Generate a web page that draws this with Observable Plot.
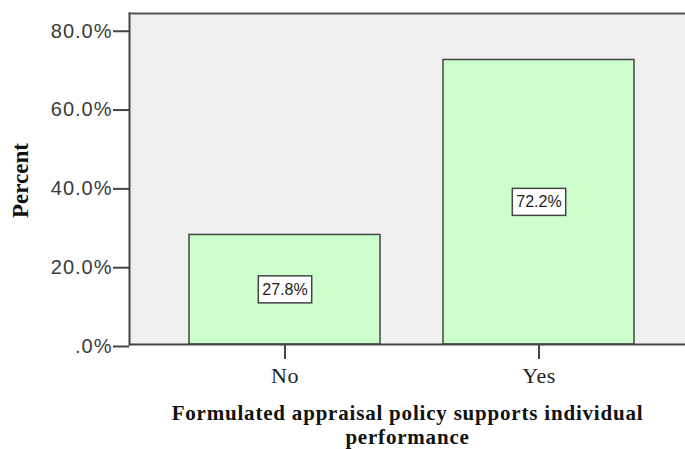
<!DOCTYPE html>
<html>
<head>
<meta charset="utf-8">
<script src="https://cdn.jsdelivr.net/npm/d3@7"></script>
<script src="https://cdn.jsdelivr.net/npm/@observablehq/plot@0.6"></script>
<style>
  html, body { margin: 0; padding: 0; background: #ffffff; }
  #chart svg { display: block; }
  #chart g[aria-label="y-axis tick label"] text { letter-spacing: 1px; }
  #chart g[aria-label="x-axis tick label"] text { letter-spacing: 0.5px; }
  #chart text.x-title { letter-spacing: 0.8px; }
</style>
</head>
<body>
<div id="chart"></div>
<script>
// Response categories and their share of respondents
const categories = ["No", "Yes"];
const percents = [27.8, 72.2];

// Value axis ticks and their labels
const yTicks = [0, 20, 40, 60, 80];
const yTickLabels = [".0%", "20.0%", "40.0%", "60.0%", "80.0%"];

const yTitle = "Percent";
const xTitle = "Formulated appraisal policy supports individual\nperformance";

const rows = categories.map((c, i) => ({category: c, percent: percents[i], label: percents[i].toFixed(1) + "%"}));
const valueLabels = new Set(rows.map((d) => d.label));

const ink = "#3a3a3a";

const chart = Plot.plot({
  width: 685,
  height: 449,
  marginLeft: 129,
  marginRight: 0,
  marginTop: 13,
  marginBottom: 105,
  style: {background: "#ffffff", overflow: "visible"},
  x: {domain: categories, range: [129, 693], paddingInner: 0.25, paddingOuter: 0.235, label: null},
  y: {domain: [0, 84], label: null},
  marks: [
    // plot area background
    Plot.frame({fill: "#f0f0f0", stroke: "none"}),
    Plot.barY(rows, {x: "category", y: "percent", fill: "#ccffcc", stroke: "#444444", strokeWidth: 1.5}),
    // left and top border, baseline
    Plot.frame({anchor: "left", stroke: "#444444", strokeWidth: 2}),
    Plot.frame({anchor: "top", stroke: "#555555", strokeWidth: 2}),
    Plot.ruleY([0], {stroke: "#444444", strokeWidth: 2}),
    Plot.axisY({
      ticks: yTicks,
      tickFormat: (d) => yTickLabels[yTicks.indexOf(d)],
      tickSize: 16,
      tickPadding: 1,
      strokeWidth: 2,
      stroke: "#444444",
      fill: ink,
      fontSize: 20,
      fontFamily: "Liberation Sans, Arial, sans-serif",
      dy: 2,
      label: null
    }),
    Plot.axisX({
      tickSize: 15,
      tickPadding: 8,
      strokeWidth: 2,
      stroke: "#444444",
      fill: "#222222",
      fontSize: 22,
      fontFamily: "Liberation Serif, Times New Roman, serif",
      label: null
    }),
    // value labels at the middle of each bar
    Plot.text(rows, {
      x: "category",
      y: (d) => d.percent / 2,
      text: "label",
      fontSize: 16,
      fontFamily: "Liberation Sans, Arial, sans-serif",
      fill: "#222222"
    }),
    // axis titles
    Plot.text([yTitle], {
      frameAnchor: "left",
      textAnchor: "middle",
      dx: -109,
      dy: 1.5,
      rotate: -90,
      fontSize: 23,
      fontWeight: "bold",
      fontFamily: "Liberation Serif, Times New Roman, serif",
      fill: "#111111"
    }),
    Plot.text([xTitle], {
      frameAnchor: "bottom",
      lineAnchor: "top",
      dy: 59,
      lineHeight: 1.12,
      fontSize: 21,
      fontWeight: "bold",
      fontFamily: "Liberation Serif, Times New Roman, serif",
      fill: "#111111"
    })
  ]
});

document.getElementById("chart").appendChild(chart);

// letter spacing for the x-axis title
chart.querySelectorAll("text").forEach((t) => {
  if (t.textContent.startsWith("Formulated")) t.classList.add("x-title");
});

// boxed value labels: a white rectangle behind each label text
chart.querySelectorAll("text").forEach((t) => {
  if (!valueLabels.has(t.textContent)) return;
  const b = t.getBBox();
  const r = document.createElementNS("http://www.w3.org/2000/svg", "rect");
  const padX = 4, padY = 5;
  r.setAttribute("x", b.x - padX);
  r.setAttribute("y", b.y - padY);
  r.setAttribute("width", b.width + 2 * padX);
  r.setAttribute("height", b.height + 2 * padY);
  r.setAttribute("fill", "#ffffff");
  r.setAttribute("stroke", "#444444");
  r.setAttribute("stroke-width", "1.5");
  const tr = t.getAttribute("transform");
  if (tr) r.setAttribute("transform", tr);
  t.parentNode.insertBefore(r, t);
});
</script>
</body>
</html>
